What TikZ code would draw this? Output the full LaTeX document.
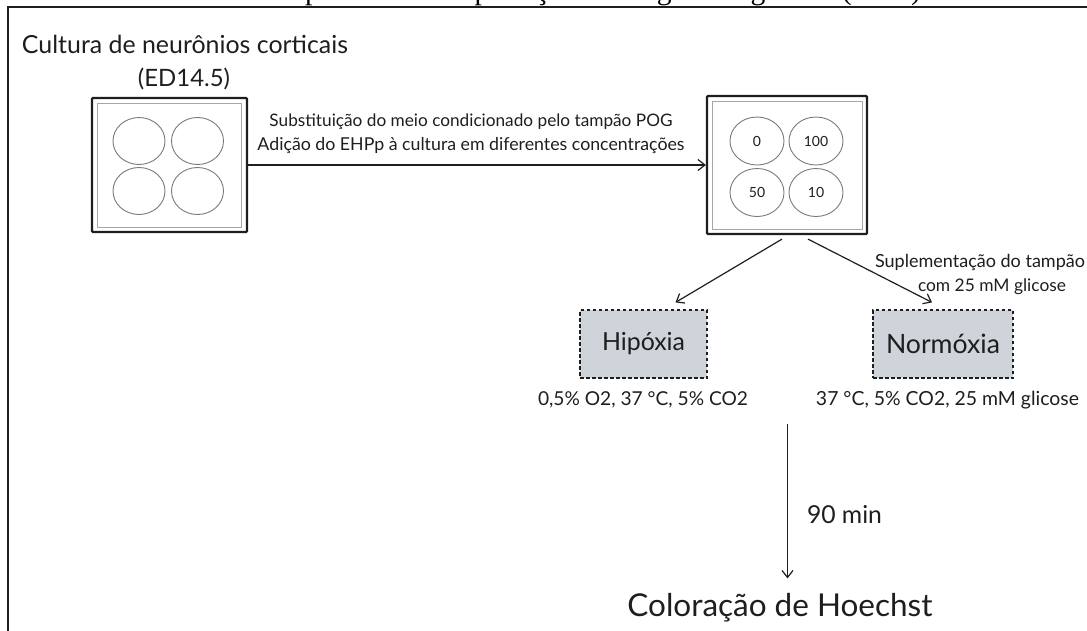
\documentclass[tikz,border=0pt]{standalone}
\usepackage{fontspec}
\setmainfont{Lato}
\newfontfamily\capfont{Liberation Serif}
\usetikzlibrary{arrows.meta,shapes.geometric}
\definecolor{ink}{HTML}{1E1E1E}
\definecolor{boxfill}{HTML}{CED4DA}
\definecolor{wellgray}{HTML}{7A7A7A}
\newcommand{\fitw}[2]{\resizebox{#1}{!}{#2}}
\begin{document}
\begin{tikzpicture}[x=1pt,y=-1pt,
  txt/.style={inner sep=0pt, text=ink},
  plateout/.style={draw=ink, line width=2.2pt, rounded corners=1pt, inner sep=0pt},
  platein/.style={draw=gray!70, line width=0.8pt, inner sep=0pt},
  well/.style={ellipse, draw=wellgray, line width=0.9pt, inner sep=0pt, minimum width=52pt, minimum height=47pt, text=ink, font=\fontsize{14}{16}\selectfont},
  arr/.style={draw=ink, line width=1.2pt, -{Straight Barb[length=7pt,width=11pt]}},
  cond/.style={draw=ink, fill=boxfill, line width=1.2pt, dash pattern=on 3.5pt off 2.5pt, inner sep=0pt, minimum height=68pt, text=ink}
]
\useasboundingbox (0,0) rectangle (1087,630);
\clip (0,0) rectangle (1087,630);

% caption fragment (cut off at top)
\node[anchor=base east, inner sep=0pt, font={\capfont\fontsize{29.6}{32}\selectfont}] (cap) at (921,-1) {Desenho experimental de privação de oxigênio e glicose (POG)};

% frame
\draw[draw=ink, line width=2pt] (8,640) -- (8,7) -- (1100,7);

% title
\node[txt] (title) at (185,44.5) {\fitw{326pt}{Cultura de neurônios corticais}};
\node[txt] (ed) at (184,78.5) {\fitw{92pt}{(ED14.5)}};

% plate 1
\node[plateout, minimum width=155pt, minimum height=134pt] (p1) at (169.5,165) {};
\node[platein, minimum width=144pt, minimum height=124pt] (p1i) at (169,165) {};
\node[well] (a1) at (139,141) {};
\node[well] (a2) at (197.5,141) {};
\node[well] (a3) at (139,191) {};
\node[well] (a4) at (197.5,191) {};

% plate 2
\node[plateout, minimum width=160pt, minimum height=138pt] (p2) at (787,165) {};
\node[platein, minimum width=150pt, minimum height=128pt] (p2i) at (787,165) {};
\node[well, minimum width=54pt, minimum height=48pt] (b1) at (757,141) {0};
\node[well, minimum width=54pt, minimum height=48pt] (b2) at (816,141) {100};
\node[well, minimum width=54pt, minimum height=48pt] (b3) at (757,192.5) {50};
\node[well, minimum width=54pt, minimum height=48pt] (b4) at (816,192.5) {10};

% main arrow
\draw[arr] (p1.east) -- (p2.west);
\node[txt, anchor=base] (l1) at (471,126) {\fitw{403pt}{Substituição do meio condicionado pelo tampão POG}};
\node[txt, anchor=base] (l2) at (471,150) {\fitw{427pt}{Adição do EHPp à cultura em diferentes concentrações}};

% condition boxes
\node[cond, minimum width=127pt] (hip) at (643.5,344) {\fitw{83pt}{Hipóxia}};
\node[cond, minimum width=140pt] (norm) at (943,344) {\fitw{114pt}{Normóxia}};

% diagonal arrows
\draw[arr] ([shift={(-5,4)}]p2.south) -- ([shift={(32,-7)}]hip.north);
\draw[arr] ([shift={(21,4)}]p2.south) -- ([shift={(-11,-7)}]norm.north);
\node[txt, anchor=base] (s1) at (980,267) {\fitw{210pt}{Suplementação do tampão}};
\node[txt, anchor=base] (s2) at (992,291) {\fitw{148pt}{com 25 mM glicose}};

% condition details
\node[txt, anchor=base] (dh) at (643,405) {\fitw{210pt}{0,5\% O2, 37 °C, 5\% CO2}};
\node[txt, anchor=base] (dn) at (947.5,405) {\fitw{263pt}{37 °C, 5\% CO2, 25 mM glicose}};

% final step
\coordinate (vtop) at (787.5,424);
\node[txt] (hoe) at (780,608) {\fitw{305pt}{Coloração de Hoechst}};
\draw[arr] (vtop) -- ([yshift=15pt]hoe.north -| vtop);
\node[txt, anchor=base] (t90) at (844.5,523) {\fitw{75pt}{90 min}};
\end{tikzpicture}
\end{document}
